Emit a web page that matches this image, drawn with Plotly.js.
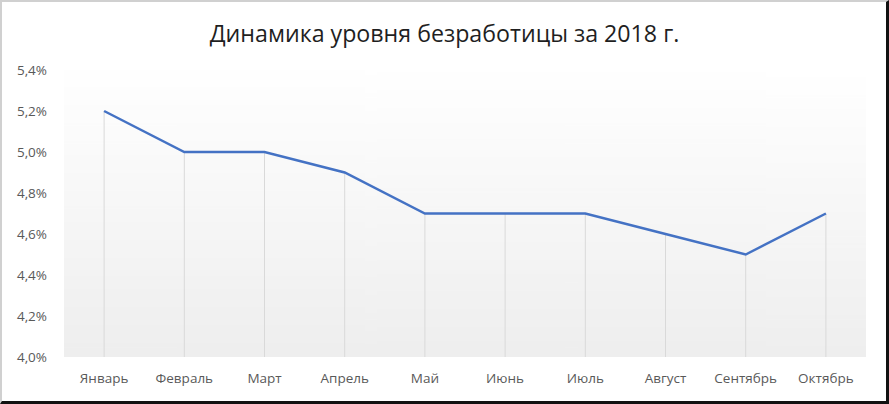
<!DOCTYPE html>
<html>
<head>
<meta charset="utf-8">
<script src="https://cdn.plot.ly/plotly-3.0.1.min.js"></script>
<style>
  html, body { margin: 0; padding: 0; background: #ffffff; }
  #wrap { position: relative; width: 889px; height: 404px; }
  #chart { width: 889px; height: 404px; }
  #frame { position: absolute; left: 0; top: 0; width: 889px; height: 404px; box-sizing: border-box;
           border-top: 2px solid #d0d0d0; border-left: 2px solid #d0d0d0;
           border-right: 3px solid #111; border-bottom: 3px solid #111; pointer-events: none; }
</style>
</head>
<body>
<div id="wrap">
  <div id="chart"></div>
  <div id="frame"></div>
</div>
<script>
const months = ["Январь", "Февраль", "Март", "Апрель", "Май", "Июнь", "Июль", "Август", "Сентябрь", "Октябрь"];
const unemployment = [5.2, 5.0, 5.0, 4.9, 4.7, 4.7, 4.7, 4.6, 4.5, 4.7];
const axisMin = 4.0;
const axisMax = 5.4;
const titleText = "Динамика уровня безработицы за 2018 г.";

const dropLengths = unemployment.map(v => +(v - axisMin).toFixed(4));

// vertical gradient background image for plot area
const cv = document.createElement("canvas");
cv.width = 4; cv.height = 256;
const ctx = cv.getContext("2d");
const g = ctx.createLinearGradient(0, 0, 0, 256);
g.addColorStop(0, "#ffffff");
g.addColorStop(1, "#eeeeee");
ctx.fillStyle = g;
ctx.fillRect(0, 0, 4, 256);
const gradURL = cv.toDataURL("image/png");

const trace = {
  type: "scatter",
  mode: "lines",
  x: months,
  y: unemployment,
  line: { color: "#4472C4", width: 2.5 },
  error_y: {
    type: "data",
    symmetric: false,
    array: unemployment.map(() => 0),
    arrayminus: dropLengths,
    color: "#d9d9d9",
    thickness: 1,
    width: 0
  },
  hoverinfo: "skip"
};

const tickFont = { family: "Open Sans, Noto Sans, sans-serif", size: 13.5, color: "#595959" };

const layout = {
  width: 889,
  height: 404,
  margin: { l: 64, r: 23, t: 70, b: 47 },
  paper_bgcolor: "rgba(0,0,0,0)",
  plot_bgcolor: "rgba(0,0,0,0)",
  separators: ", ",
  showlegend: false,
  title: {
    text: titleText,
    font: { family: "Open Sans, Noto Sans, sans-serif", size: 23.2, color: "#1f1f1f" },
    x: 0.5, xanchor: "center", y: 0.915, yanchor: "middle"
  },
  xaxis: {
    type: "category",
    range: [-0.5, months.length - 0.5],
    showgrid: false, zeroline: false, showline: false,
    ticks: "", tickfont: tickFont,
    ticklabelstandoff: 11
  },
  yaxis: {
    range: [axisMin, axisMax],
    dtick: 0.2,
    tick0: axisMin,
    tickformat: ".1f",
    ticksuffix: "%",
    showgrid: false, zeroline: false, showline: false,
    ticks: "", tickfont: tickFont,
    ticklabelstandoff: 16
  },
  images: [{
    source: gradURL,
    xref: "paper", yref: "paper",
    x: 0, y: 1, sizex: 1, sizey: 1,
    xanchor: "left", yanchor: "top",
    sizing: "stretch", layer: "below"
  }]
};

Plotly.newPlot("chart", [trace], layout, { staticPlot: true, displayModeBar: false });
</script>
</body>
</html>
